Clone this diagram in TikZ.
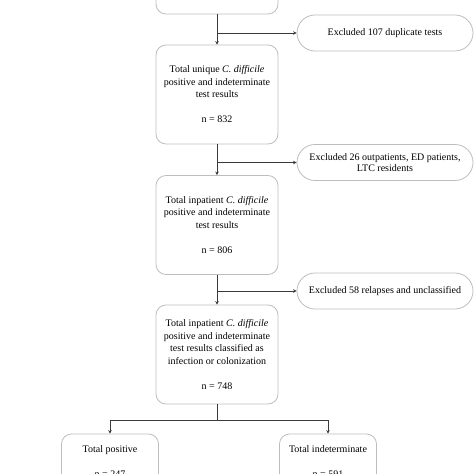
\documentclass[tikz,border=0pt]{standalone}
\usepackage{fontspec}
\setmainfont{Liberation Serif}
\usetikzlibrary{arrows.meta}
\definecolor{boxgray}{HTML}{BDBDBD}
\definecolor{linegray}{HTML}{3A3A3A}
\tikzset{
  mainbox/.style={draw=boxgray, line width=0.8bp, rounded corners=10bp, minimum width=122bp, minimum height=99bp, align=center, inner sep=0pt, font=\fontsize{10bp}{12.5bp}\selectfont},
  smallbox/.style={draw=boxgray, line width=0.8bp, rounded corners=10bp, minimum width=97bp, minimum height=99bp, inner sep=0pt},
  exbox/.style={draw=boxgray, line width=0.8bp, rounded corners=18bp, minimum width=176bp, minimum height=36bp, align=center, inner sep=0pt, font=\fontsize{10bp}{11.5bp}\selectfont},
  lbl/.style={align=center, inner sep=0pt, font=\fontsize{10bp}{12.5bp}\selectfont},
  conn/.style={draw=linegray, line width=0.9bp, -{Stealth[length=3.5bp,width=3.5bp]}},
  plain/.style={draw=linegray, line width=0.9bp},
}
\begin{document}
\begin{tikzpicture}[x=1bp,y=-1bp]
\useasboundingbox (0,0) rectangle (474,474);
\clip (0,0) rectangle (474,474);
\node[mainbox] (b1) at (217,-35.5) {};
\node[mainbox] (b2) at (217,94.5) {Total unique \textit{C. difficile}\\positive and indeterminate\\test results\\[12.5bp]n = 832};
\node[mainbox] (b3) at (217,225) {Total inpatient \textit{C. difficile}\\positive and indeterminate\\test results\\[12.5bp]n = 806};
\node[mainbox] (b4) at (217,354.5) {Total inpatient \textit{C. difficile}\\positive and indeterminate\\test results classified as\\infection or colonization\\[12.5bp]n = 748};
\node[exbox] (e1) at (385,33) {Excluded 107 duplicate tests};
\node[exbox] (e2) at (385,162.5) {Excluded 26 outpatients, ED patients,\\LTC residents};
\node[exbox] (e3) at (385,291) {Excluded 58 relapses and unclassified};
\node[smallbox] (p) at (110,483.5) {};
\node[smallbox] (q) at (328,483.5) {};
\node[lbl, anchor=base] (pt) at (110,452) {Total positive};
\node[lbl, anchor=base] (pn) at (110,477) {n = 247};
\node[lbl, anchor=base] (qt) at (328,452) {Total indeterminate};
\node[lbl, anchor=base] (qn) at (328,477) {n = 591};
\coordinate (s1) at (217,33);
\coordinate (s2) at (217,162.5);
\coordinate (s3) at (217,291);
\coordinate (sp) at (217,420);
\draw[conn] (b1.south) -- (b2.north);
\draw[conn] (s1) -- (e1.west);
\draw[conn] (b2.south) -- (b3.north);
\draw[conn] (s2) -- (e2.west);
\draw[conn] (b3.south) -- (b4.north);
\draw[conn] (s3) -- (e3.west);
\draw[plain] (b4.south) -- (sp);
\draw[conn] (sp) -| (p.north);
\draw[conn] (sp) -| (q.north);
\end{tikzpicture}
\end{document}
